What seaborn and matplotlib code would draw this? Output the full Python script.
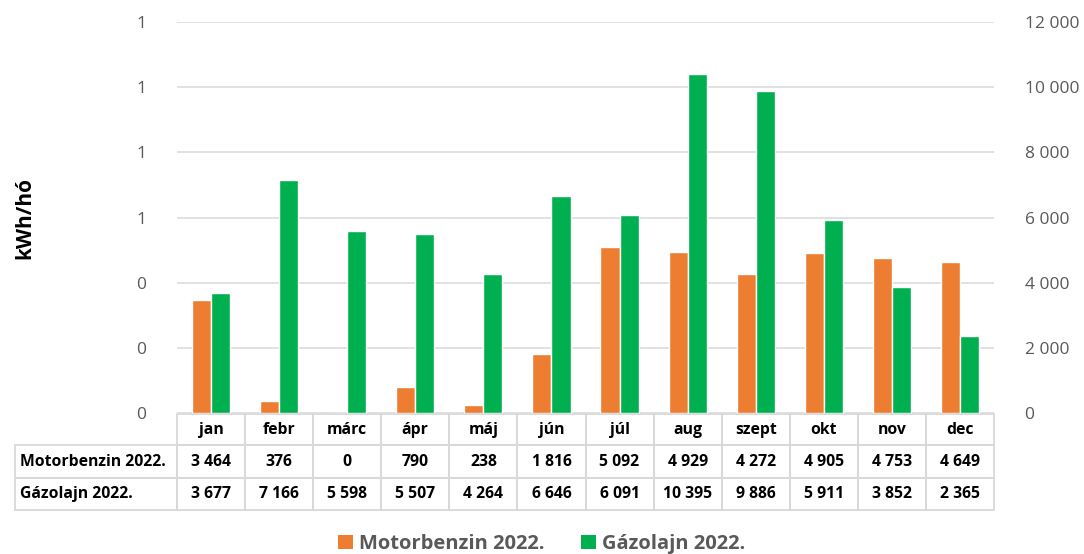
import pandas as pd
import matplotlib.pyplot as plt
import seaborn as sns
from matplotlib.patches import Rectangle, Patch
from matplotlib.ticker import FuncFormatter

# chart data
months = ['jan', 'febr', 'márc', 'ápr', 'máj', 'jún', 'júl', 'aug', 'szept', 'okt', 'nov', 'dec']
series_names = ['Motorbenzin 2022.', 'Gázolajn 2022.']
motorbenzin = [3464, 376, 0, 790, 238, 1816, 5092, 4929, 4272, 4905, 4753, 4649]
gazolaj = [3677, 7166, 5598, 5507, 4264, 6646, 6091, 10395, 9886, 5911, 3852, 2365]
right_ticks = [0, 2000, 4000, 6000, 8000, 10000, 12000]
left_ticks = [0, 0.2, 0.4, 0.6, 0.8, 1.0, 1.2]

colors = ['#ED7D31', '#00B050']
grid_col = '#D9D9D9'
tick_col = '#595959'

df = pd.DataFrame({
    'month': months * 2,
    'series': [series_names[0]] * 12 + [series_names[1]] * 12,
    'value': motorbenzin + gazolaj,
})

sns.set_theme(style='white')
plt.rcParams['font.family'] = ['Open Sans', 'DejaVu Sans']

W, H = 1084, 554
fig = plt.figure(figsize=(W / 100, H / 100), dpi=100)

# plot area in pixels
x0, x1 = 177, 994
y_top, y_bot = 22, 413
ax = fig.add_axes([x0 / W, 1 - y_bot / H, (x1 - x0) / W, (y_bot - y_top) / H])

sns.barplot(data=df, x='month', y='value', hue='series', palette=colors,
            width=0.56, ax=ax, legend=False, saturation=1)
ax.set_ylim(0, 12000)
ax.set_xlim(-0.5, 11.5)
ax.set_xticks([])
ax.set_xlabel('')
ax.set_ylabel('')
ax.grid(axis='y', color=grid_col, linewidth=1.1)
ax.set_axisbelow(True)
for s in ax.spines.values():
    s.set_visible(False)

# left axis with the rounded 0..1 labels
ax2 = ax.twinx()
ax2.set_ylim(0, 1.2)
ax2.set_yticks(left_ticks)
ax2.yaxis.tick_left()
ax2.yaxis.set_major_formatter(FuncFormatter(lambda v, p: f'{v:.0f}'))
ax2.tick_params(axis='y', colors=tick_col, labelsize=12.5, length=0, pad=22)
for s in ax2.spines.values():
    s.set_visible(False)

# right axis carries the bar scale
ax.set_yticks(right_ticks)
ax.yaxis.tick_right()
ax.yaxis.set_major_formatter(FuncFormatter(lambda v, p: f'{int(v):,}'.replace(',', ' ')))
ax.tick_params(axis='y', colors=tick_col, labelsize=12.5, length=0, pad=22)

fig.text(25 / W, 1 - 218 / H, 'kWh/hó', rotation=90, ha='center', va='center',
         fontsize=15, fontweight='bold', color='black')

# data table under the chart
def box(px, py, pw, ph):
    fig.add_artist(Rectangle((px / W, 1 - (py + ph) / H), pw / W, ph / H,
                             transform=fig.transFigure, fill=False,
                             edgecolor=grid_col, linewidth=1.3))

def cell_text(px, py, s, ha='center'):
    fig.text(px / W, 1 - py / H, s, ha=ha, va='center', fontsize=11.3,
             fontweight='bold', color='black')

col_w = (x1 - x0) / 12
rows = [414, 445, 478, 510]
label_x = 15

def fmt(v):
    return f'{v:,}'.replace(',', ' ')

for i, m in enumerate(months):
    cx = x0 + i * col_w
    box(cx, rows[0], col_w, rows[1] - rows[0])
    cell_text(cx + col_w / 2, (rows[0] + rows[1]) / 2, m)
    box(cx, rows[1], col_w, rows[2] - rows[1])
    cell_text(cx + col_w / 2, (rows[1] + rows[2]) / 2, fmt(motorbenzin[i]))
    box(cx, rows[2], col_w, rows[3] - rows[2])
    cell_text(cx + col_w / 2, (rows[2] + rows[3]) / 2, fmt(gazolaj[i]))

for r, name in enumerate(series_names):
    box(label_x, rows[r + 1], x0 - label_x, rows[r + 2] - rows[r + 1])
    cell_text(label_x + 5, (rows[r + 1] + rows[r + 2]) / 2, name, ha='left')

handles = [Patch(facecolor=c, edgecolor='none') for c in colors]
leg = fig.legend(handles, series_names, loc='center', bbox_to_anchor=(0.5, 1 - 544 / H),
                 ncol=2, frameon=False, handlelength=0.75, handleheight=0.75,
                 handletextpad=0.3, columnspacing=1.8,
                 prop={'size': 14.5, 'weight': 'bold'})
for t in leg.get_texts():
    t.set_color(tick_col)

fig.savefig('out.png', dpi=100)
